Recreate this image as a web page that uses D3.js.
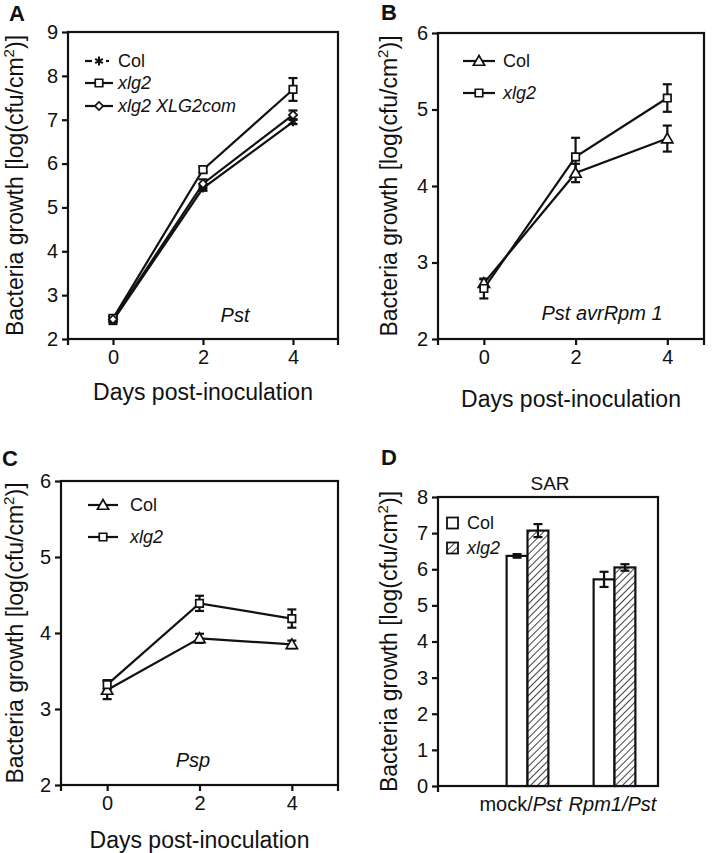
<!DOCTYPE html>
<html>
<head>
<meta charset="utf-8">
<script src="https://cdn.jsdelivr.net/npm/d3@7"></script>
<style>
  html, body { margin: 0; padding: 0; background: #fff; }
  svg text { font-family: "Liberation Sans", Arial, Helvetica, sans-serif; fill: #111; }
</style>
</head>
<body>
<svg id="chart" width="716" height="853"></svg>
<script>
// ---------------- DATA ----------------
const days = [0, 2, 4];
const dayTicks = [0, 2, 4];

// Panel A (Pst)
const aCol = [2.42, 5.44, 6.95];
const aColErr = [0.08, 0.06, 0.05];
const aXlg2 = [2.47, 5.86, 7.69];
const aXlg2Err = [0.06, 0.06, 0.26];
const aCom = [2.45, 5.54, 7.11];
const aComErr = [0.06, 0.10, 0.10];
const aYTicks = [2, 3, 4, 5, 6, 7, 8, 9];

// Panel B (Pst avrRpm 1)
const bCol = [2.73, 4.17, 4.62];
const bColErr = [0.05, 0.12, 0.17];
const bXlg2 = [2.66, 4.38, 5.15];
const bXlg2Err = [0.13, 0.25, 0.18];
const bYTicks = [2, 3, 4, 5, 6];

// Panel C (Psp)
const cCol = [3.25, 3.93, 3.85];
const cColErr = [0.12, 0.06, 0.05];
const cXlg2 = [3.32, 4.39, 4.19];
const cXlg2Err = [0.06, 0.10, 0.12];
const cYTicks = [2, 3, 4, 5, 6];

// Panel D (SAR)
const dCategories = ["mock/Pst", "Rpm1/Pst"];
const dGenotypes = ["Col", "xlg2"];
const dCol = [6.37, 5.72];
const dColErr = [0.05, 0.21];
const dXlg2 = [7.07, 6.05];
const dXlg2Err = [0.18, 0.09];
const dYTicks = [0, 1, 2, 3, 4, 5, 6, 7, 8];

// ---------------- DRAWING ----------------
const svg = d3.select("#chart");
const FONT_TICK = 20, FONT_TITLE = 23, SW = 2.2;

// hatch pattern
const defs = svg.append("defs");
const pat = defs.append("pattern").attr("id", "hatch").attr("patternUnits", "userSpaceOnUse")
  .attr("width", 5).attr("height", 5).attr("patternTransform", "rotate(45)");
pat.append("rect").attr("width", 5).attr("height", 5).attr("fill", "#fff");
pat.append("line").attr("x1", 0).attr("y1", 0).attr("x2", 0).attr("y2", 5)
  .attr("stroke", "#111").attr("stroke-width", 1.6);

function yLabel(g, x, cy) {
  const t = g.append("text").attr("transform", `translate(${x},${cy}) rotate(-90)`)
    .attr("text-anchor", "middle").attr("font-size", FONT_TITLE);
  t.append("tspan").text("Bacteria growth [log(cfu/cm");
  t.append("tspan").attr("font-size", 15).attr("dy", -9).text("2");
  t.append("tspan").attr("dy", 9).text(")]");
}

function panelLetter(x, y, s) {
  svg.append("text").attr("x", x).attr("y", y).attr("font-size", 22)
    .attr("font-weight", "bold").text(s);
}

const symbols = {
  asterisk: d3.symbol().type(d3.symbolAsterisk).size(55)(),
  square: d3.symbol().type(d3.symbolSquare).size(56)(),
  diamond: d3.symbol().type(d3.symbolSquare).size(34)(),
  triangle: d3.symbol().type(d3.symbolTriangle).size(55)()
};
function drawMarker(g, type, x, y) {
  const p = g.append("path").attr("d", symbols[type])
    .attr("stroke", "#111").attr("stroke-width", type === "asterisk" ? 2 : 1.7)
    .attr("fill", type === "asterisk" ? "none" : "#fff");
  if (type === "diamond") p.attr("transform", `translate(${x},${y}) rotate(45)`);
  else if (type === "triangle") p.attr("transform", `translate(${x},${y + 1})`);
  else p.attr("transform", `translate(${x},${y})`);
}

function styleAxis(a) {
  a.select(".domain").remove();
  a.selectAll("line").attr("stroke", "#111").attr("stroke-width", SW);
  a.selectAll("text").attr("font-size", FONT_TICK).attr("fill", "#111")
    .style("font-family", '"Liberation Sans", Arial, sans-serif');
}

function linePanel(cfg) {
  const g = svg.append("g");
  const x = d3.scaleLinear().domain(cfg.xDomain).range([cfg.left, cfg.right]);
  const y = d3.scaleLinear().domain(cfg.yDomain).range([cfg.bottom, cfg.top]);

  g.append("rect").attr("x", cfg.left).attr("y", cfg.top)
    .attr("width", cfg.right - cfg.left).attr("height", cfg.bottom - cfg.top)
    .attr("fill", "none").attr("stroke", "#111").attr("stroke-width", SW);

  styleAxis(g.append("g").attr("transform", `translate(${cfg.left},0)`)
    .call(d3.axisLeft(y).tickValues(cfg.yTicks).tickSize(6).tickPadding(4).tickFormat(d3.format("d"))));
  styleAxis(g.append("g").attr("transform", `translate(0,${cfg.bottom})`)
    .call(d3.axisBottom(x).tickValues(dayTicks).tickSize(6).tickPadding(5).tickFormat(d3.format("d"))));
  cfg.xDomain.forEach(v => {
    g.append("line").attr("x1", x(v)).attr("x2", x(v)).attr("y1", cfg.bottom).attr("y2", cfg.bottom + 6)
      .attr("stroke", "#111").attr("stroke-width", SW);
  });

  const line = d3.line().x((d, i) => x(days[i])).y(d => y(d));
  cfg.series.forEach(s => {
    g.append("path").attr("d", line(s.values)).attr("fill", "none")
      .attr("stroke", "#111").attr("stroke-width", SW);
  });
  cfg.series.forEach(s => {
    s.values.forEach((v, i) => {
      const cx = x(days[i]);
      const e = s.err[i];
      g.append("line").attr("x1", cx).attr("x2", cx).attr("y1", y(v - e)).attr("y2", y(v + e))
        .attr("stroke", "#111").attr("stroke-width", SW);
      [v - e, v + e].forEach(t => g.append("line").attr("x1", cx - 4.5).attr("x2", cx + 4.5)
        .attr("y1", y(t)).attr("y2", y(t)).attr("stroke", "#111").attr("stroke-width", SW));
    });
  });
  cfg.series.forEach(s => {
    s.values.forEach((v, i) => drawMarker(g, s.marker, x(days[i]), y(v)));
  });

  cfg.series.forEach((s, i) => {
    const ly = cfg.legend.y[i];
    const lx0 = cfg.legend.x0, lx1 = cfg.legend.x1, mx = (lx0 + lx1) / 2;
    if (s.marker === "asterisk") {
      g.append("line").attr("x1", lx0).attr("x2", mx - 7).attr("y1", ly).attr("y2", ly)
        .attr("stroke", "#111").attr("stroke-width", SW);
      g.append("line").attr("x1", mx + 7).attr("x2", lx1 - 4).attr("y1", ly).attr("y2", ly)
        .attr("stroke", "#111").attr("stroke-width", SW);
    } else {
      g.append("line").attr("x1", lx0).attr("x2", lx1).attr("y1", ly).attr("y2", ly)
        .attr("stroke", "#111").attr("stroke-width", SW);
    }
    drawMarker(g, s.marker, mx, ly);
    g.append("text").attr("x", cfg.legend.tx).attr("y", ly).attr("dy", "0.35em")
      .attr("font-size", 18).attr("font-style", s.italic ? "italic" : "normal").text(s.name);
  });

  g.append("text").attr("x", cfg.note.x).attr("y", cfg.note.y).attr("text-anchor", "middle")
    .attr("font-size", 20).attr("font-style", "italic").text(cfg.note.text);

  g.append("text").attr("x", (cfg.left + cfg.right) / 2).attr("y", cfg.xTitleY)
    .attr("text-anchor", "middle").attr("font-size", FONT_TITLE).text("Days post-inoculation");
  yLabel(g, cfg.yTitleX, (cfg.top + cfg.bottom) / 2);
}

linePanel({
  left: 68, right: 338, top: 32, bottom: 339,
  xDomain: [-1, 5], yDomain: [2, 9], yTicks: aYTicks,
  series: [
    { name: "Col", values: aCol, err: aColErr, marker: "asterisk", italic: false },
    { name: "xlg2", values: aXlg2, err: aXlg2Err, marker: "square", italic: true },
    { name: "xlg2 XLG2com", values: aCom, err: aComErr, marker: "diamond", italic: true }
  ],
  legend: { x0: 85, x1: 113, tx: 118, y: [61, 83, 106] },
  note: { x: 235, y: 322, text: "Pst" },
  xTitleY: 400, yTitleX: 23
});
panelLetter(9, 21, "A");

linePanel({
  left: 438, right: 704, top: 33, bottom: 339,
  xDomain: [-1, 4.8], yDomain: [2, 6], yTicks: bYTicks,
  series: [
    { name: "Col", values: bCol, err: bColErr, marker: "triangle", italic: false },
    { name: "xlg2", values: bXlg2, err: bXlg2Err, marker: "square", italic: true }
  ],
  legend: { x0: 463, x1: 495, tx: 503, y: [61, 93] },
  note: { x: 602, y: 320, text: "Pst  avrRpm 1" },
  xTitleY: 407, yTitleX: 397
});
panelLetter(381, 20, "B");

linePanel({
  left: 61, right: 338, top: 481, bottom: 785,
  xDomain: [-1, 5], yDomain: [2, 6], yTicks: cYTicks,
  series: [
    { name: "Col", values: cCol, err: cColErr, marker: "triangle", italic: false },
    { name: "xlg2", values: cXlg2, err: cXlg2Err, marker: "square", italic: true }
  ],
  legend: { x0: 88, x1: 118, tx: 130, y: [505, 537] },
  note: { x: 193, y: 767, text: "Psp" },
  xTitleY: 848, yTitleX: 23
});
panelLetter(2, 466, "C");

(function () {
  const left = 438, right = 658, top = 497, bottom = 786;
  const g = svg.append("g");
  const y = d3.scaleLinear().domain([0, 8]).range([bottom, top]);
  const x0 = d3.scaleBand().domain(dCategories).range([484, right]).paddingInner(0.52).paddingOuter(0.26);
  const x1 = d3.scaleBand().domain(dGenotypes).range([0, x0.bandwidth()]);
  const vals = { Col: dCol, xlg2: dXlg2 };
  const errs = { Col: dColErr, xlg2: dXlg2Err };

  g.append("rect").attr("x", left).attr("y", top).attr("width", right - left).attr("height", bottom - top)
    .attr("fill", "none").attr("stroke", "#111").attr("stroke-width", SW);

  styleAxis(g.append("g").attr("transform", `translate(${left},0)`)
    .call(d3.axisLeft(y).tickValues(dYTicks).tickSize(6).tickPadding(4).tickFormat(d3.format("d"))));
  g.append("line").attr("x1", left).attr("x2", left).attr("y1", bottom).attr("y2", bottom + 6)
    .attr("stroke", "#111").attr("stroke-width", SW);

  dCategories.forEach((c, ci) => {
    dGenotypes.forEach(gt => {
      const bx = x0(c) + x1(gt), bw = x1.bandwidth();
      const v = vals[gt][ci], e = errs[gt][ci];
      g.append("rect").attr("x", bx).attr("y", y(v)).attr("width", bw).attr("height", y(0) - y(v))
        .attr("fill", gt === "Col" ? "#fff" : "url(#hatch)").attr("stroke", "#111").attr("stroke-width", SW);
      const cx = bx + bw / 2;
      g.append("line").attr("x1", cx).attr("x2", cx).attr("y1", y(v - e)).attr("y2", y(v + e))
        .attr("stroke", "#111").attr("stroke-width", SW);
      [v - e, v + e].forEach(t => g.append("line").attr("x1", cx - 4.5).attr("x2", cx + 4.5)
        .attr("y1", y(t)).attr("y2", y(t)).attr("stroke", "#111").attr("stroke-width", SW));
    });
  });

  const labelShift = [-7, -2];
  dCategories.forEach((c, ci) => {
    const t = g.append("text").attr("x", x0(c) + x0.bandwidth() / 2 + labelShift[ci]).attr("y", 811)
      .attr("text-anchor", "middle").attr("font-size", 20);
    const [a, b] = c.split("/");
    t.append("tspan").attr("font-style", a === "mock" ? "normal" : "italic").text(a + "/");
    t.append("tspan").attr("font-style", "italic").text(b);
  });

  const leg = [{ name: "Col", y: 523, fill: "#fff" }, { name: "xlg2", y: 548, fill: "url(#hatch)" }];
  leg.forEach(l => {
    g.append("rect").attr("x", 447).attr("y", l.y - 5.5).attr("width", 11).attr("height", 11)
      .attr("fill", l.fill).attr("stroke", "#111").attr("stroke-width", 1.8);
    g.append("text").attr("x", 467).attr("y", l.y).attr("dy", "0.35em").attr("font-size", 18)
      .attr("font-style", l.name === "Col" ? "normal" : "italic").text(l.name);
  });

  g.append("text").attr("x", 550).attr("y", 490).attr("text-anchor", "middle").attr("font-size", 19).text("SAR");
  yLabel(g, 397, (top + bottom) / 2);
})();
panelLetter(381, 465, "D");
</script>
</body>
</html>
